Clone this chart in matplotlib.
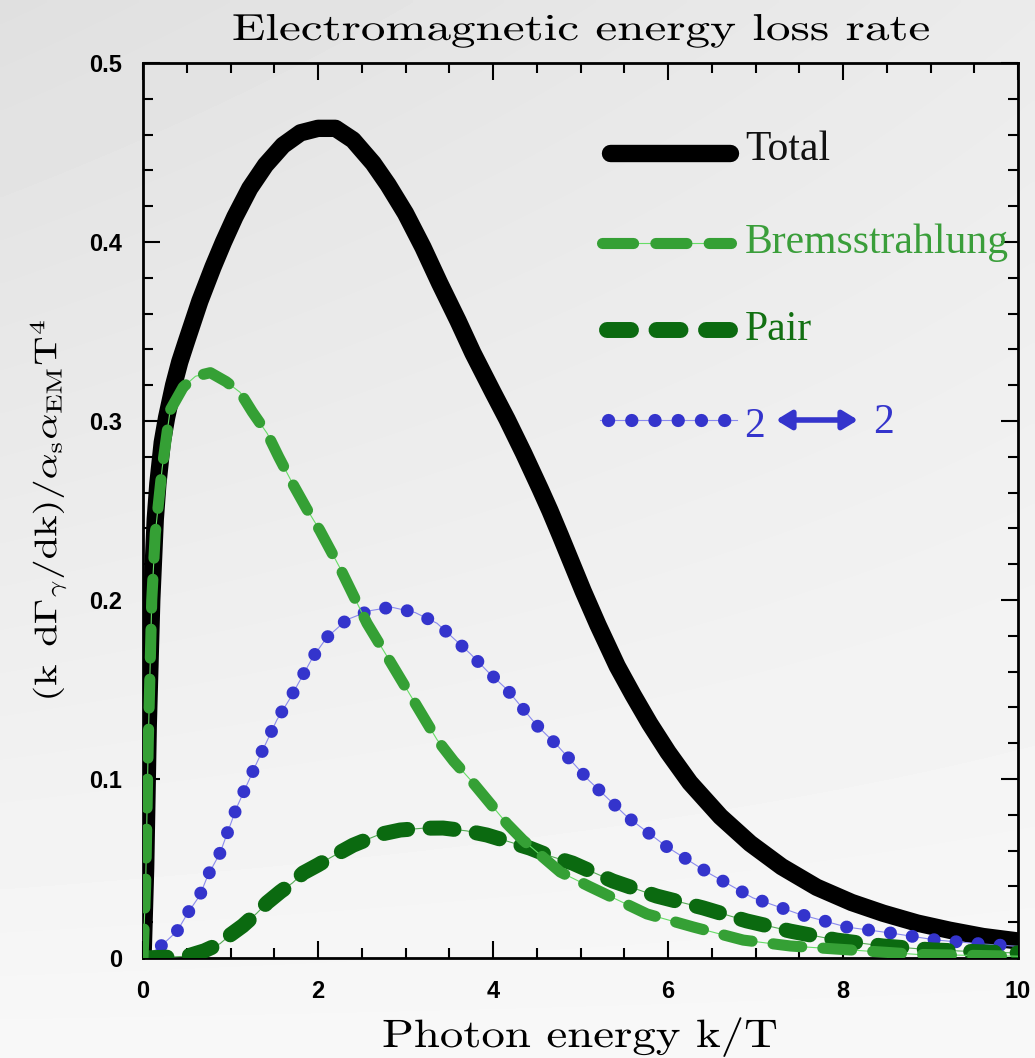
import numpy as np
import matplotlib
matplotlib.use("Agg")
import matplotlib.pyplot as plt
from matplotlib.ticker import MultipleLocator, FixedLocator, FixedFormatter
from matplotlib.patheffects import AbstractPathEffect
from matplotlib.transforms import Affine2D

plt.rcParams['mathtext.fontset'] = 'cm'

# ---------------- data ----------------
total_x = [0.0, 0.03, 0.06, 0.10, 0.14, 0.17, 0.22, 0.27, 0.35, 0.42, 0.50, 0.65,
           0.80, 0.92, 1.05, 1.22, 1.40, 1.60, 1.80, 2.00, 2.20, 2.40, 2.63, 2.80,
           3.00, 3.20, 3.39, 3.60, 3.77, 4.00, 4.16, 4.35, 4.54, 4.65, 4.77, 5.03,
           5.20, 5.42, 5.60, 5.79, 6.00, 6.25, 6.60, 6.94, 7.30, 7.70, 8.10, 8.46,
           8.85, 9.22, 9.60, 10.0]
total_y = [0.0, 0.05, 0.13, 0.20, 0.245, 0.265, 0.288, 0.302, 0.320, 0.333, 0.345, 0.367,
           0.386, 0.400, 0.414, 0.430, 0.443, 0.454, 0.461, 0.4635, 0.4635, 0.457, 0.444, 0.432,
           0.416, 0.397, 0.377, 0.356, 0.338, 0.316, 0.301, 0.282, 0.262, 0.250, 0.236, 0.205,
           0.186, 0.163, 0.147, 0.131, 0.115, 0.098, 0.079, 0.064, 0.051, 0.0395, 0.031, 0.025,
           0.0195, 0.0155, 0.012, 0.0095]

brems_x = [0.0, 0.03, 0.06, 0.10, 0.14, 0.22, 0.31, 0.46, 0.60, 0.77, 0.95, 1.11,
           1.25, 1.42, 1.55, 1.71, 1.87, 2.02, 2.25, 2.56, 2.82, 3.09, 3.36, 3.55,
           3.77, 4.16, 4.34, 4.77, 5.10, 5.76, 6.29, 6.86, 7.40, 8.08, 8.85, 10.0]
brems_y = [0.0, 0.04, 0.12, 0.20, 0.237, 0.274, 0.306, 0.319, 0.325, 0.327, 0.322, 0.316,
           0.305, 0.293, 0.280, 0.265, 0.251, 0.239, 0.218, 0.187, 0.166, 0.144, 0.122, 0.110,
           0.098, 0.075, 0.066, 0.048, 0.040, 0.0246, 0.0173, 0.010, 0.0067, 0.0045, 0.002, 0.001]

pair_x = [0.0, 0.30, 0.50, 0.70, 0.88, 1.00, 1.14, 1.30, 1.42, 1.57, 1.71, 1.83,
          2.00, 2.14, 2.40, 2.70, 2.94, 3.20, 3.43, 3.70, 3.93, 4.18, 4.42, 4.65,
          4.91, 5.37, 5.87, 6.40, 6.90, 7.40, 7.93, 8.46, 9.03, 9.60, 10.0]
pair_y = [0.0, 0.0005, 0.001, 0.004, 0.008, 0.013, 0.018, 0.025, 0.031, 0.037, 0.042, 0.0475,
          0.052, 0.056, 0.063, 0.069, 0.0715, 0.0725, 0.0726, 0.071, 0.0687, 0.065, 0.0614, 0.057,
          0.053, 0.043, 0.0346, 0.028, 0.0207, 0.015, 0.010, 0.0067, 0.0045, 0.0034, 0.0028]

two2_x = [0.0, 0.19, 0.39, 0.51, 0.65, 0.74, 0.88, 1.07, 1.30, 1.53, 1.68, 1.94,
          2.10, 2.33, 2.59, 2.84, 3.11, 3.36, 3.54, 3.74, 3.94, 4.16, 4.50, 4.73,
          5.09, 5.53, 5.99, 6.48, 6.97, 7.50, 8.04, 8.54, 9.07, 9.60, 10.0]
two2_y = [0.0, 0.006, 0.015, 0.025, 0.035, 0.046, 0.0586, 0.084, 0.109, 0.133, 0.145, 0.168,
          0.179, 0.189, 0.194, 0.196, 0.193, 0.187, 0.179, 0.170, 0.160, 0.150, 0.130, 0.119,
          0.0995, 0.079, 0.062, 0.047, 0.0336, 0.0245, 0.0173, 0.014, 0.010, 0.0078, 0.0065]

x_ticks = [0, 2, 4, 6, 8, 10]
x_tick_labels = ['0', '2', '4', '6', '8', '10']
y_ticks = [0, 0.1, 0.2, 0.3, 0.4, 0.5]
y_tick_labels = ['0', '0.1', '0.2', '0.3', '0.4', '0.5']

title = 'Electromagnetic energy loss rate'
xlabel = 'Photon energy k/T'
ylabel = r'$(\mathrm{k\ \,d}\Gamma_\gamma/\mathrm{dk})/\alpha_\mathrm{s}\alpha_\mathrm{EM}\mathrm{T}^4$'
legend_labels = ['Total', 'Bremsstrahlung', 'Pair']

# ---------------- styles ----------------
C_TOTAL = '#000000'
C_BREMS = '#35a035'
C_PAIR = '#0b6a10'
C_22 = '#3434cc'


class Stretch(AbstractPathEffect):
    """Draw text glyph paths stretched about their centre."""
    def __init__(self, sx=1.0, sy=1.0):
        super().__init__()
        self.sx, self.sy = sx, sy

    def draw_path(self, renderer, gc, tpath, affine, rgbFace=None):
        ext = tpath.get_extents(affine)
        cx, cy = (ext.x0 + ext.x1) / 2, (ext.y0 + ext.y1) / 2
        aff = affine + Affine2D().translate(-cx, -cy).scale(self.sx, self.sy).translate(cx, cy)
        renderer.draw_path(gc, tpath, aff, rgbFace)


W, H = 1035, 1058
fig = plt.figure(figsize=(W / 100, H / 100), dpi=100)

# soft grey background
bg = fig.add_axes([0, 0, 1, 1], zorder=-10)
yy, xx = np.mgrid[0:1:200j, 0:1:200j]
val = 0.972 - 0.08 * (1 - yy) * (1 - 0.55 * xx) - 0.015 * (1 - yy)
bg.imshow(val, cmap='gray', vmin=0, vmax=1, aspect='auto', extent=[0, 1, 0, 1],
          origin='upper', interpolation='bilinear')
bg.set_axis_off()

AX_L, AX_R, AX_T, AX_B = 143, 1018, 63, 958
ax = fig.add_axes([AX_L / W, (H - AX_B) / H, (AX_R - AX_L) / W, (AX_B - AX_T) / H])
ax.patch.set_alpha(0)

ax.plot(total_x, total_y, color=C_TOTAL, lw=12.5, solid_capstyle='butt',
        solid_joinstyle='round', zorder=3)

ax.plot(two2_x, two2_y, color='#8a8aee', lw=0.8, zorder=4)
ax.plot(two2_x, two2_y, color=C_22, lw=9.3, linestyle=(0, (0.01, 1.7)),
        dash_capstyle='round', zorder=4)

ax.plot(pair_x, pair_y, color='#55aa55', lw=0.8, zorder=5)
ax.plot(pair_x, pair_y, color=C_PAIR, lw=10.8, linestyle=(0, (1.6, 1.5)),
        dash_capstyle='round', zorder=5)

ax.plot(brems_x, brems_y, color='#66dd66', lw=0.8, zorder=6)
ax.plot(brems_x, brems_y, color=C_BREMS, lw=8.0, linestyle=(0, (2.6, 1.9)),
        dash_capstyle='round', zorder=6)

ax.set_xlim(0, 10)
ax.set_ylim(0, 0.5)

ax.xaxis.set_major_locator(FixedLocator(x_ticks))
ax.xaxis.set_major_formatter(FixedFormatter(x_tick_labels))
ax.xaxis.set_minor_locator(MultipleLocator(0.5))
ax.yaxis.set_major_locator(FixedLocator(y_ticks))
ax.yaxis.set_major_formatter(FixedFormatter(y_tick_labels))
ax.yaxis.set_minor_locator(MultipleLocator(0.02))

for s in ax.spines.values():
    s.set_linewidth(2.0)
ax.tick_params(which='both', direction='in', top=True, right=True, width=1.5)
ax.tick_params(which='major', length=12)
ax.tick_params(which='minor', length=7)
ax.tick_params(axis='x', which='major', pad=16)
ax.tick_params(axis='y', which='major', pad=15)
for lab in ax.get_xticklabels() + ax.get_yticklabels():
    lab.set_fontfamily('Liberation Sans')
    lab.set_fontweight('bold')
    lab.set_fontsize(17)

t_title = fig.text(581 / W, 1 - 40 / H, title, ha='center', va='baseline',
                   fontsize=27, family='cmr10')
t_xlab = fig.text(580 / W, 1 - 1047 / H, xlabel, ha='center', va='baseline',
                  fontsize=28.5, family='cmr10')
t_ylab = fig.text(48 / W, 1 - 510 / H, ylabel, ha='center', va='center', rotation=90,
                  fontsize=22.5)

# stretch labels to the widths seen in the reference
fig.canvas.draw()
r = fig.canvas.get_renderer()
bb = t_title.get_window_extent(r)
t_title.set_path_effects([Stretch(sx=698 / bb.width)])
bb = t_xlab.get_window_extent(r)
t_xlab.set_path_effects([Stretch(sx=396 / bb.width)])
bb = t_ylab.get_window_extent(r)
t_ylab.set_path_effects([Stretch(sy=383 / bb.height)])

# ---------------- legend (drawn inside the axes) ----------------
def fx(px):
    return (px - AX_L) / float(AX_R - AX_L)

def fy(py):
    return (AX_B - py) / float(AX_B - AX_T)

T = ax.transAxes
ax.plot([fx(610), fx(730)], [fy(153), fy(153)], transform=T, color=C_TOTAL, lw=12.5,
        solid_capstyle='round', clip_on=False)
ax.plot([fx(598), fx(735)], [fy(243), fy(243)], transform=T, color='#66dd66', lw=0.8,
        clip_on=False)
ax.plot([fx(602), fx(731)], [fy(243), fy(243)], transform=T, color=C_BREMS, lw=8,
        linestyle=(0, (2.8, 2.0)), dash_capstyle='round', clip_on=False)
ax.plot([fx(607), fx(732)], [fy(330), fy(330)], transform=T, color=C_PAIR, lw=11.5,
        linestyle=(0, (1.5, 1.6)), dash_capstyle='round', clip_on=False)
ax.plot([fx(600), fx(737)], [fy(420), fy(420)], transform=T, color='#8a8aee', lw=0.8,
        clip_on=False)
ax.plot([fx(608), fx(735)], [fy(420), fy(420)], transform=T, color=C_22, lw=9.5,
        linestyle=(0, (0.01, 1.75)), dash_capstyle='round', clip_on=False)

lfont = dict(family='Liberation Serif', fontsize=30, va='baseline', ha='left',
             transform=T, clip_on=False)
ax.text(fx(745), fy(160), legend_labels[0], color='#111111', **lfont)
ax.text(fx(745), fy(253), legend_labels[1], color='#3a9e3a', **lfont)
ax.text(fx(745), fy(340), legend_labels[2], color='#127012', **lfont)
ax.text(fx(744), fy(437), '2', color=C_22, **lfont)
ax.text(fx(873), fy(433), '2', color=C_22, **lfont)
ax.annotate('', xy=(fx(858), fy(420)), xytext=(fx(776), fy(420)),
            xycoords=T, textcoords=T,
            arrowprops=dict(arrowstyle='<|-|>,head_length=0.9,head_width=0.55',
                            color=C_22, lw=4, shrinkA=0, shrinkB=0))

fig.savefig('out.png', dpi=100)
